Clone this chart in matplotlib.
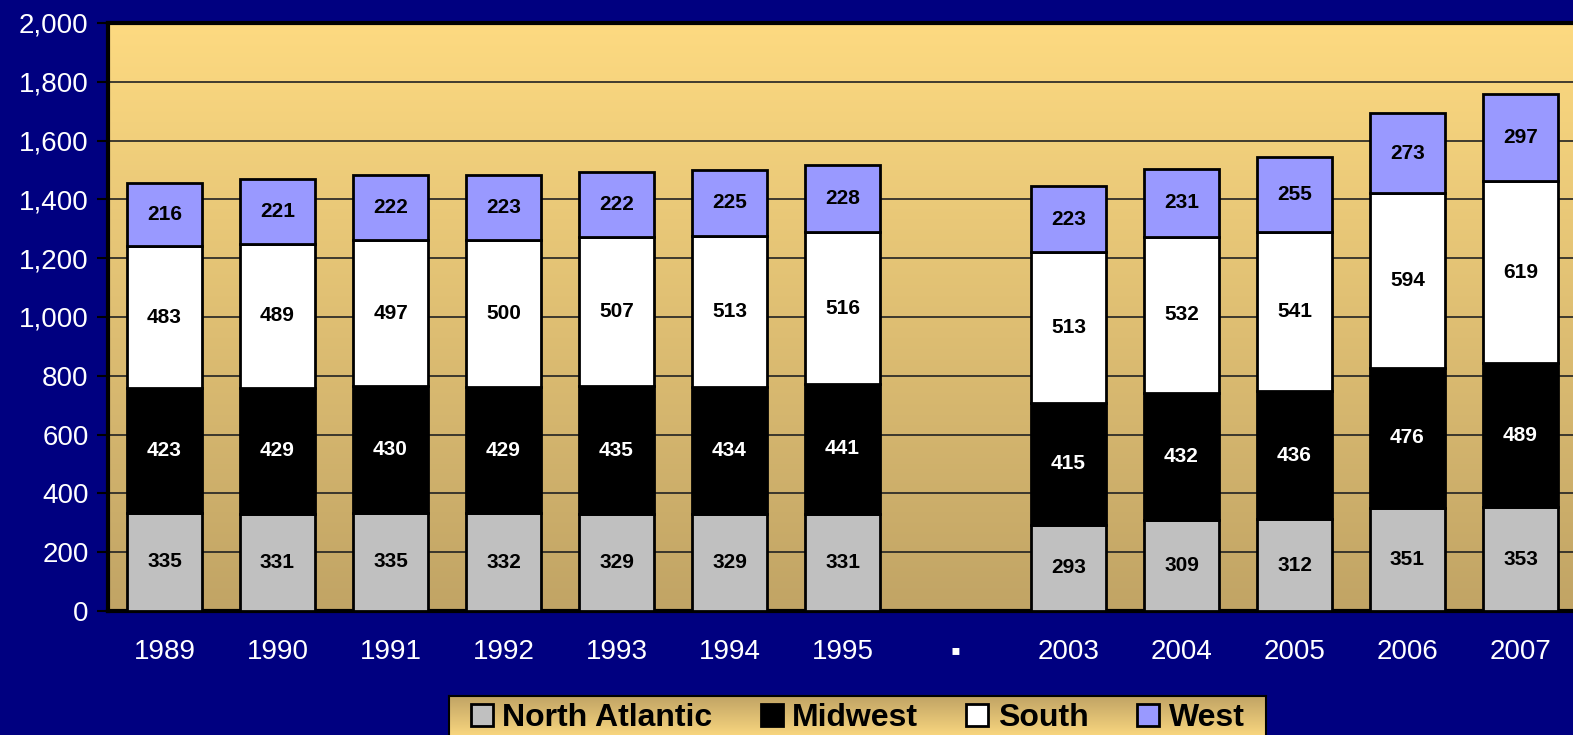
import numpy as np
import matplotlib
matplotlib.use('Agg')
from matplotlib import pyplot as plt
from matplotlib.colors import LinearSegmentedColormap
from matplotlib.lines import Line2D

years = ['1989', '1990', '1991', '1992', '1993', '1994', '1995', '\u25aa',
         '2003', '2004', '2005', '2006', '2007']
north_atlantic = [335, 331, 335, 332, 329, 329, 331, None, 293, 309, 312, 351, 353]
midwest = [423, 429, 430, 429, 435, 434, 441, None, 415, 432, 436, 476, 489]
south = [483, 489, 497, 500, 507, 513, 516, None, 513, 532, 541, 594, 619]
west = [216, 221, 222, 223, 222, 225, 228, None, 223, 231, 255, 273, 297]

series = [('North Atlantic', north_atlantic, '#C0C0C0', 'black'),
          ('Midwest', midwest, '#000000', 'white'),
          ('South', south, '#FFFFFF', 'black'),
          ('West', west, '#9999FF', 'black')]

navy = '#000080'
plt.rcParams['font.family'] = ['Liberation Sans', 'DejaVu Sans']

fig = plt.figure(figsize=(15.73, 7.35), dpi=100, facecolor=navy)
ax = fig.add_axes([108 / 1573, 1 - 611 / 735, 1469 / 1573, 588 / 735])

grad = LinearSegmentedColormap.from_list('bg', ['#C1A465', '#FDDA81'])
ax.imshow(np.linspace(0, 1, 256).reshape(-1, 1), cmap=grad, origin='lower',
          extent=[-0.5, 12.5, 0, 2000], aspect='auto', zorder=0)

x = np.arange(len(years))
bottoms = np.zeros(len(years))
for name, vals, color, tcolor in series:
    for i, v in enumerate(vals):
        if v is None:
            continue
        ax.bar(x[i], v, bottom=bottoms[i], width=0.665, color=color,
               edgecolor='black', linewidth=2, zorder=3)
        ax.text(x[i], bottoms[i] + v / 2, str(v), ha='center', va='center',
                color=tcolor, fontsize=15, fontweight='bold', zorder=4)
        bottoms[i] += v

ax.set_xlim(-0.5, 12.5)
ax.set_ylim(0, 2000)
ax.set_yticks(range(0, 2001, 200))
ax.set_yticklabels([f'{v:,}' for v in range(0, 2001, 200)])
ax.set_xticks(x)
ax.set_xticklabels(years)
ax.yaxis.grid(True, color='#222222', linewidth=1.2, zorder=1)
ax.set_axisbelow(True)
ax.tick_params(axis='y', colors='black', labelcolor='white', labelsize=20,
               length=8, width=1.5, direction='out', pad=6)
ax.tick_params(axis='x', labelcolor='white', labelsize=20, length=0, pad=20)
for s in ax.spines.values():
    s.set_color('black')
    s.set_linewidth(3)

# legend with gradient box
lax = fig.add_axes([449 / 1573, -4 / 735, 817 / 1573, 43 / 735])
lax.imshow(np.linspace(0, 1, 64).reshape(-1, 1), cmap=grad, origin='upper',
           extent=[0, 1, 0, 1], aspect='auto')
lax.set_xticks([])
lax.set_yticks([])
for s in lax.spines.values():
    s.set_color('black')
    s.set_linewidth(1.5)
handles = [Line2D([], [], marker='s', linestyle='none', markersize=16,
                  markerfacecolor=c, markeredgecolor='black', markeredgewidth=2)
           for _, _, c, _ in series]
lax.legend(handles, [n for n, _, _, _ in series], loc='center', ncol=4,
           frameon=False, prop={'size': 23, 'weight': 'bold'},
           handletextpad=0.3, columnspacing=1.5, handlelength=0.7,
           borderpad=0, bbox_to_anchor=(0.5, 0.49))

fig.savefig('out.png', dpi=100, facecolor=navy)
